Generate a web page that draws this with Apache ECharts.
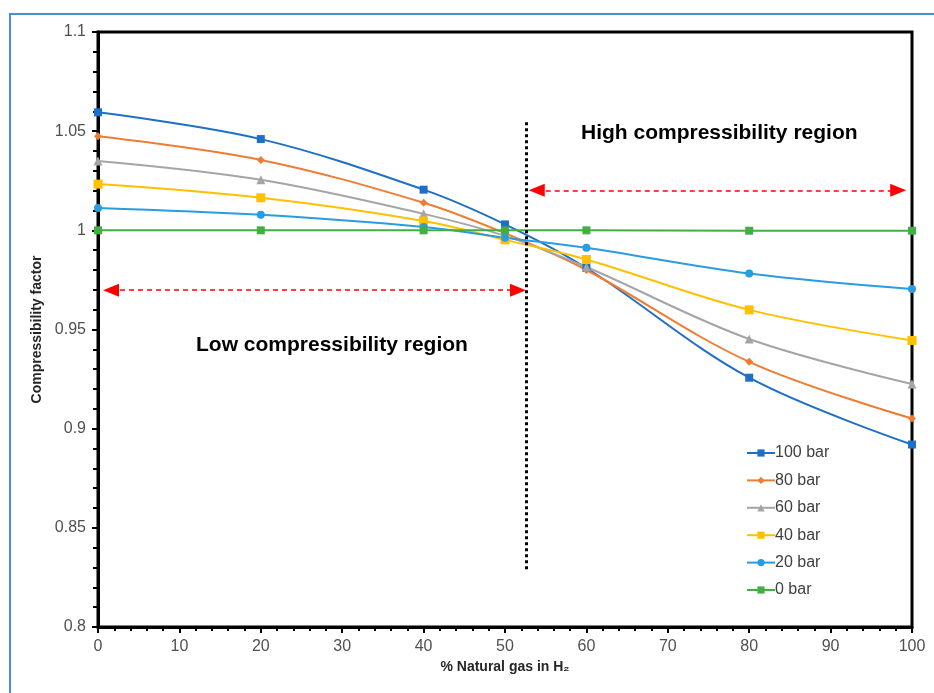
<!DOCTYPE html>
<html>
<head>
<meta charset="utf-8">
<script src="https://cdn.jsdelivr.net/npm/echarts@6/dist/echarts.min.js"></script>
<style>
html,body{margin:0;padding:0;background:#fff;}
#container{width:934px;height:693px;}
</style>
</head>
<body>
<div id="container"></div>
<script>
// % natural gas in H2
var xs = [0, 20, 40, 50, 60, 80, 100];
var bar100 = [1.0595, 1.0460, 1.0205, 1.0030, 0.9810, 0.9257, 0.8920];
var bar80  = [1.0474, 1.0355, 1.0139, 0.9985, 0.9800, 0.9337, 0.9051];
var bar60  = [1.0350, 1.0255, 1.0083, 0.9972, 0.9815, 0.9452, 0.9225];
var bar40  = [1.0233, 1.0164, 1.0047, 0.9952, 0.9853, 0.9599, 0.9445];
var bar20  = [1.0113, 1.0078, 1.0017, 0.9963, 0.9912, 0.9782, 0.9704];
var bar0   = [1.0000, 1.0000, 1.0000, 1.0000, 1.0000, 0.9998, 0.9998];

var names = ['100 bar', '80 bar', '60 bar', '40 bar', '20 bar', '0 bar'];
var colors = ['#1f6fc6', '#f07c34', '#a5a5a5', '#ffc000', '#2a9ce0', '#45ad45'];
var symbols = ['rect', 'diamond', 'triangle', 'rect', 'circle', 'rect'];
var sizes = [8, 8, 9, 9, 8, 8];

// annotation positions (data units)
var divideX = 52.6;
var divideY = [1.0545, 0.828];
var highArrow = [53.9, 98.3, 1.0202];
var lowArrow = [1.6, 51.6, 0.9698];

function pairs(arr) {
    return xs.map(function (x, i) { return [x, arr[i]]; });
}

var dom = document.getElementById('container');
var myChart = echarts.init(dom);
var font = 'Arial, "Liberation Sans", sans-serif';

var all = [bar100, bar80, bar60, bar40, bar20, bar0];
var series = all.map(function (arr, i) {
    return {
        name: names[i],
        type: 'line',
        smooth: 0.35,
        data: pairs(arr),
        symbol: symbols[i],
        symbolSize: sizes[i],
        color: colors[i],
        lineStyle: {width: 2, color: colors[i]},
        itemStyle: {color: colors[i]},
        z: 3
    };
});

series.push({
    type: 'line',
    data: [],
    silent: true,
    markLine: {
        silent: true,
        animation: false,
        label: {show: false},
        emphasis: {disabled: true},
        data: [
            [{coord: [divideX, divideY[0]], symbol: 'none'}, {coord: [divideX, divideY[1]], symbol: 'none',
                lineStyle: {color: '#000', width: 3, type: [3, 3]}}],
            [{coord: [highArrow[0], highArrow[2]], symbol: 'triangle', symbolSize: [13, 16]},
             {coord: [highArrow[1], highArrow[2]], symbol: 'triangle', symbolSize: [13, 16]}],
            [{coord: [lowArrow[0], lowArrow[2]], symbol: 'triangle', symbolSize: [13, 16]},
             {coord: [lowArrow[1], lowArrow[2]], symbol: 'triangle', symbolSize: [13, 16]}]
        ],
        lineStyle: {color: '#ff0000', width: 1.5, type: [5, 4]},
        itemStyle: {color: '#ff0000'}
    }
});

var option = {
    animation: false,
    textStyle: {fontFamily: font},
    grid: {
        left: 98, right: 22, top: 32, bottom: 66,
        show: true,
        borderColor: '#000',
        borderWidth: 3,
        backgroundColor: 'transparent'
    },
    legend: {
        orient: 'vertical',
        left: 741,
        top: 439,
        itemWidth: 28,
        itemHeight: 9,
        itemGap: 9.4,
        data: names,
        textStyle: {fontSize: 16, color: '#404040', fontFamily: font, padding: [0, 0, 0, -5], lineHeight: 18}
    },
    xAxis: {
        type: 'value',
        min: 0,
        max: 100,
        interval: 10,
        name: '% Natural gas in H\u2082',
        nameLocation: 'middle',
        nameGap: 31,
        nameTextStyle: {fontSize: 14, fontWeight: 'bold', color: '#262626', fontFamily: font},
        axisLine: {show: true, lineStyle: {color: '#000', width: 3}},
        axisTick: {show: true, length: 6, lineStyle: {color: '#000', width: 2}},
        minorTick: {show: true, splitNumber: 5, length: 4, lineStyle: {color: '#000', width: 2}},
        splitLine: {show: false},
        axisLabel: {fontSize: 16, color: '#505050', margin: 12}
    },
    yAxis: {
        type: 'value',
        min: 0.8,
        max: 1.1,
        interval: 0.05,
        name: 'Compressibility factor',
        nameLocation: 'middle',
        nameGap: 52,
        nameTextStyle: {fontSize: 14, fontWeight: 'bold', color: '#262626', fontFamily: font},
        axisLine: {show: true, lineStyle: {color: '#000', width: 3}},
        axisTick: {show: true, length: 6, lineStyle: {color: '#000', width: 2}},
        minorTick: {show: true, splitNumber: 5, length: 5, lineStyle: {color: '#000', width: 2}},
        splitLine: {show: false},
        axisLabel: {fontSize: 16, color: '#505050', margin: 12}
    },
    graphic: [
        {
            type: 'rect',
            shape: {x: 10, y: 14, width: 940, height: 700},
            style: {fill: 'none', stroke: '#4a8ed6', lineWidth: 2},
            silent: true
        },
        {
            type: 'text',
            left: 581,
            top: 123,
            style: {text: 'High compressibility region', font: 'bold 21px ' + font, fill: '#000'}
        },
        {
            type: 'text',
            left: 196,
            top: 335,
            style: {text: 'Low compressibility region', font: 'bold 21px ' + font, fill: '#000'}
        }
    ],
    series: series
};
myChart.setOption(option);
</script>
</body>
</html>
